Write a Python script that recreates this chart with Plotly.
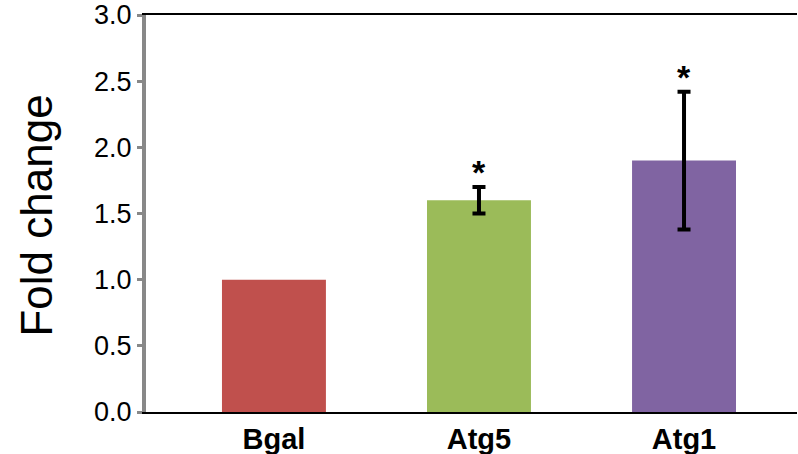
import plotly.graph_objects as go

categories = ["Bgal", "Atg5", "Atg1"]
values = [1.0, 1.6, 1.9]
errors = [0.0, 0.1, 0.52]
colors = ["#C0504D", "#9BBB59", "#8064A2"]
significance = ["", "*", "*"]
y_ticks = [0.0, 0.5, 1.0, 1.5, 2.0, 2.5, 3.0]

x_pos = list(range(len(categories)))

fig = go.Figure()
fig.add_trace(go.Bar(
    x=x_pos, y=values, width=0.507,
    marker=dict(color=colors, line=dict(width=0)),
    showlegend=False, hoverinfo="skip",
))
err_idx = [i for i, e in enumerate(errors) if e > 0]
fig.add_trace(go.Scatter(
    x=[x_pos[i] for i in err_idx], y=[values[i] for i in err_idx],
    mode="markers", marker=dict(size=0.1, color="rgba(0,0,0,0)"),
    error_y=dict(type="data", array=[errors[i] for i in err_idx], visible=True,
                 color="black", thickness=4, width=6.5),
    showlegend=False,
))

annotations = []
for i, (v, e, s) in enumerate(zip(values, errors, significance)):
    if s:
        annotations.append(dict(x=i, y=v + e, text="<b>%s</b>" % s, showarrow=False, xref="x", yref="y",
                                yanchor="bottom", yshift=-6,
                                font=dict(size=34, color="black", family="Liberation Sans")))
annotations.append(dict(x=-0.168, y=0.494, xref="paper", yref="paper", text="Fold change",
                        textangle=-90, showarrow=False, xanchor="center", yanchor="middle",
                        font=dict(size=44, color="black", family="Liberation Sans")))

fig.update_layout(
    width=798, height=454,
    margin=dict(l=146, r=1, t=15, b=42),
    plot_bgcolor="white", paper_bgcolor="white",
    font=dict(family="Liberation Sans", color="black"),
    annotations=annotations,
    xaxis=dict(
        range=[-0.624, 2.551], tickmode="array", tickvals=x_pos,
        ticktext=["<b>%s</b>" % c for c in categories],
        tickfont=dict(size=29, color="black"),
        showline=True, linecolor="black", linewidth=2, mirror=True,
        showgrid=False, zeroline=False, ticks="", automargin=False,
    ),
    yaxis=dict(
        range=[0, 3.0], tickvals=y_ticks, ticktext=["%.1f" % t for t in y_ticks],
        tickfont=dict(size=27, color="black"),
        showline=True, linecolor="#888888", linewidth=4,
        ticks="outside", ticklen=5, tickwidth=3, tickcolor="#888888",
        showgrid=False, zeroline=False, automargin=False,
    ),
)

fig.write_html("out.html", config={"displayModeBar": False},
               post_script="document.body.style.margin='0';document.body.style.overflow='hidden';")
